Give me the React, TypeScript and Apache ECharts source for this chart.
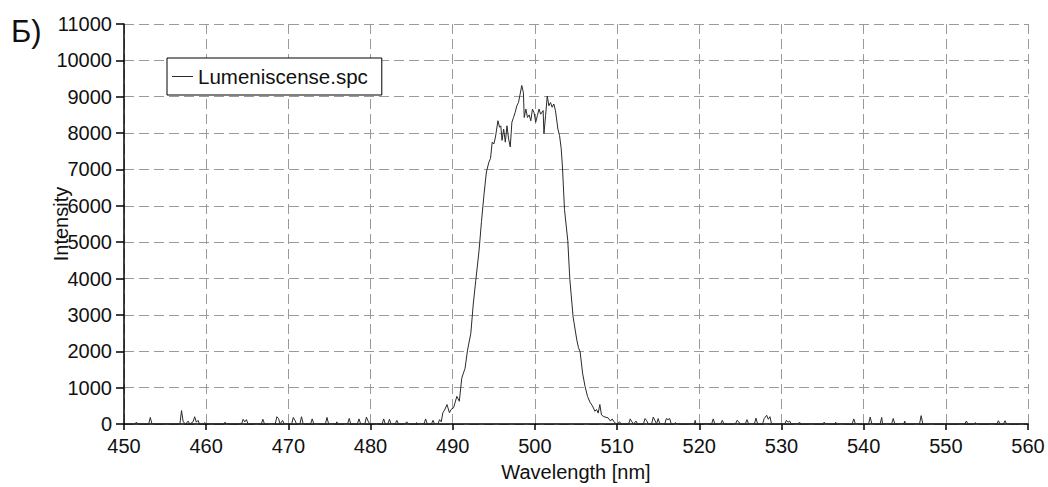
import React, { useEffect, useRef } from "react";
import * as echarts from "echarts";

const xTickMin = 450;
const xTickMax = 560;
const xTickStep = 10;
const yTickMin = 0;
const yTickMax = 11000;
const yTickStep = 1000;

const seriesName = "Lumeniscense.spc";
const panelLabel = "Б)";
const xTitle = "Wavelength [nm]";
const yTitle = "Intensity";

// baseline noise, left of the band: [wavelength nm, intensity]
const leftNoise: [number, number][] = [
  [450.0, 0], [451.3, 0], [451.5, 50], [451.7, 0], [453.0, 0], [453.2, 180], [453.4, 0],
  [456.8, 0], [457.0, 370], [457.2, 60], [457.5, 0], [457.8, 80], [458.0, 0], [458.4, 60],
  [458.6, 200], [458.8, 50], [459.0, 100], [459.2, 0],
  [459.7, 0], [459.8, 40], [460.0, 0],
  [462.2, 0], [462.3, 50], [462.4, 0],
  [464.3, 0], [464.5, 130], [464.7, 60], [464.9, 120], [465.1, 0],
  [466.7, 0], [466.9, 130], [467.1, 0],
  [468.4, 0], [468.6, 200], [468.8, 150], [469.0, 0], [469.3, 100], [469.5, 0],
  [470.4, 0], [470.6, 180], [470.8, 100], [471.0, 0],
  [471.4, 0], [471.6, 200], [471.8, 0],
  [472.7, 0], [472.9, 140], [473.1, 0],
  [474.5, 0], [474.7, 180], [474.9, 0],
  [475.8, 0], [475.9, 60], [476.0, 0],
  [477.2, 0], [477.4, 150], [477.6, 0],
  [478.4, 0], [478.6, 140], [478.8, 0],
  [479.3, 0], [479.5, 190], [479.7, 80], [479.9, 0],
  [481.4, 0], [481.6, 140], [481.8, 0], [482.1, 0], [482.3, 130], [482.5, 0],
  [483.0, 0], [483.2, 100], [483.4, 0],
  [484.2, 0], [484.4, 60], [484.6, 0],
  [485.5, 0], [485.6, 40], [485.7, 0],
  [486.5, 0], [486.7, 140], [486.9, 0],
  [487.4, 0], [487.6, 100], [487.8, 0],
  [488.2, 0], [488.4, 120], [488.6, 60],
];

// luminescence band
const band: [number, number][] = [
  [488.8, 310], [489.0, 380], [489.3, 535], [489.6, 310], [489.8, 400], [490.1, 445],
  [490.3, 600], [490.5, 760], [490.8, 625], [491.1, 1260], [491.3, 1400], [491.5, 1530],
  [491.8, 2030], [492.2, 2490], [492.5, 3300], [492.8, 3940], [493.2, 4760], [493.5, 5570],
  [493.8, 6300], [494.1, 6930], [494.4, 7200], [494.6, 7300], [494.8, 7750], [495.0, 7700],
  [495.2, 7890], [495.5, 8340], [495.7, 8160], [495.85, 8200], [496.0, 7800], [496.2, 8110],
  [496.4, 7750], [496.6, 8200], [496.8, 7840], [497.0, 7620], [497.2, 8300], [497.4, 8430],
  [497.6, 8570], [497.8, 8750], [498.0, 8840], [498.2, 9070], [498.4, 9310], [498.6, 9110],
  [498.7, 8430], [498.9, 8660], [499.1, 8430], [499.3, 8500], [499.5, 8340], [499.7, 8660],
  [499.9, 8560], [500.1, 8300], [500.3, 8480], [500.5, 8660], [500.7, 8520], [501.0, 8620],
  [501.1, 7980], [501.3, 8480], [501.5, 9020], [501.7, 8750], [501.9, 8840], [502.1, 8710],
  [502.3, 8800], [502.5, 8620], [502.8, 8110], [503.0, 7930], [503.2, 7570], [503.35, 7070],
  [503.6, 5900], [504.0, 5040], [504.25, 3980], [504.65, 2940], [505.1, 2310], [505.3, 2100],
  [505.5, 1990], [505.8, 1400], [506.1, 1035], [506.4, 760], [506.7, 600], [507.0, 500],
  [507.3, 350], [507.5, 400], [507.7, 300], [507.9, 535], [508.1, 250], [508.4, 200],
  [508.9, 170], [509.2, 80], [509.4, 140], [509.7, 35], [510.0, 0],
];

// baseline noise, right of the band
const rightNoise: [number, number][] = [
  [510.3, 60], [510.5, 0],
  [511.4, 0], [511.6, 140], [511.8, 60], [512.0, 0], [512.3, 80], [512.5, 0],
  [513.2, 0], [513.4, 150], [513.6, 90], [513.8, 0],
  [514.2, 0], [514.4, 190], [514.6, 100], [514.8, 0], [515.0, 150], [515.2, 0],
  [515.8, 0], [516.0, 150], [516.2, 120], [516.4, 150], [516.6, 0],
  [517.0, 0], [517.1, 40], [517.2, 0],
  [519.4, 0], [519.5, 100], [519.6, 0],
  [521.5, 0], [521.7, 140], [521.9, 0],
  [522.6, 0], [522.8, 100], [523.0, 0],
  [524.4, 0], [524.6, 100], [524.8, 60], [525.0, 0],
  [525.6, 0], [525.8, 120], [526.0, 0],
  [526.7, 0], [526.9, 160], [527.1, 0],
  [527.7, 0], [527.9, 150], [528.2, 240], [528.4, 130], [528.6, 200], [528.8, 0],
  [530.4, 0], [530.6, 100], [530.8, 50], [531.0, 80], [531.2, 0],
  [532.0, 0], [532.2, 50], [532.4, 0],
  [535.0, 0], [535.2, 50], [535.4, 0],
  [536.5, 0], [536.6, 50], [536.7, 0],
  [538.6, 0], [538.8, 140], [539.0, 0],
  [540.6, 0], [540.8, 190], [541.0, 0],
  [542.0, 0], [542.2, 180], [542.3, 0],
  [543.4, 0], [543.6, 150], [543.8, 0],
  [544.9, 0], [545.0, 80], [545.1, 0],
  [546.8, 0], [547.0, 230], [547.2, 0],
  [552.3, 0], [552.5, 80], [552.7, 0],
  [553.5, 0], [553.6, 40], [553.7, 0],
  [556.2, 0], [556.4, 90], [556.6, 0],
  [557.0, 0], [557.2, 90], [557.4, 0],
  [560.0, 0],
];

const FONT = "'Liberation Sans', Arial, sans-serif";

export default function App() {
  const ref = useRef<HTMLDivElement>(null);

  useEffect(() => {
    document.body.style.margin = "0";
    if (!ref.current) return;
    const chart = echarts.init(ref.current, null, { renderer: "svg" });
    const spectrum = [...leftNoise, ...band, ...rightNoise];
    const gridDash = {
      show: true,
      lineStyle: { color: "#9a9a9a", width: 1, type: [10, 5] as number[] },
    };
    chart.setOption({
      animation: false,
      backgroundColor: "#ffffff",
      textStyle: { fontFamily: FONT },
      grid: { left: 124, right: 20, top: 24, bottom: 59, containLabel: false },
      graphic: [
        {
          type: "text",
          left: 11,
          top: 16,
          style: { text: panelLabel, fontSize: 31, fontFamily: FONT, fill: "#111" },
        },
      ],
      legend: {
        show: true,
        left: 167,
        top: 58,
        backgroundColor: "#ffffff",
        borderColor: "#000000",
        borderWidth: 1,
        borderRadius: 0,
        padding: [8, 14, 8, 5],
        itemWidth: 21,
        itemHeight: 1,
        textStyle: { fontSize: 20.5, color: "#111", fontFamily: FONT },
        data: [{ name: seriesName, icon: "rect" }],
      },
      xAxis: {
        type: "value",
        min: xTickMin,
        max: xTickMax,
        interval: xTickStep,
        name: xTitle,
        nameLocation: "middle",
        nameGap: 38,
        nameMoveOverlap: false,
        nameTextStyle: { fontSize: 20, color: "#111", fontFamily: FONT },
        axisLine: { show: true, onZero: false, lineStyle: { color: "#000", width: 1.5 } },
        axisTick: { show: true, length: 6, lineStyle: { color: "#000", width: 1.5 } },
        axisLabel: { fontSize: 20, color: "#111", margin: 12, fontFamily: FONT },
        splitLine: gridDash,
      },
      yAxis: {
        type: "value",
        min: yTickMin,
        max: yTickMax,
        interval: yTickStep,
        name: yTitle,
        nameLocation: "middle",
        nameGap: 53,
        nameRotate: 90,
        nameMoveOverlap: false,
        nameTextStyle: { fontSize: 20, color: "#111", fontFamily: FONT },
        axisLine: { show: true, onZero: false, lineStyle: { color: "#000", width: 1.5 } },
        axisTick: { show: true, length: 8, lineStyle: { color: "#000", width: 1.5 } },
        axisLabel: {
          fontSize: 20,
          color: "#111",
          margin: 12,
          fontFamily: FONT,
          formatter: (v: number) => String(v),
        },
        splitLine: gridDash,
      },
      series: [
        {
          name: seriesName,
          type: "line",
          data: spectrum,
          showSymbol: false,
          symbol: "none",
          lineStyle: { color: "#2a2a2a", width: 1 },
          itemStyle: { color: "#2a2a2a" },
          z: 3,
        },
      ],
    });
    return () => chart.dispose();
  }, []);

  return <div ref={ref} style={{ width: 1048, height: 487 }} />;
}
